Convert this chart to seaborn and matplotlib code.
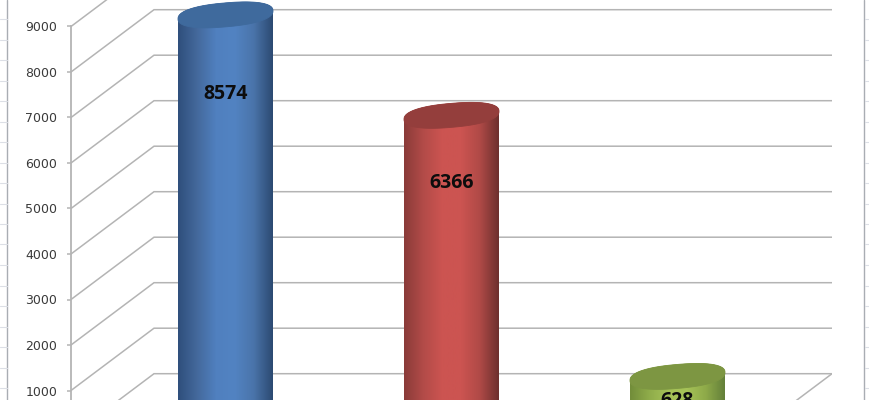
import numpy as np
import pandas as pd
import matplotlib
matplotlib.use("Agg")
import matplotlib.pyplot as plt
from matplotlib.colors import LinearSegmentedColormap
from matplotlib.patches import Polygon
from matplotlib.lines import Line2D
import seaborn as sns

categories = ["A", "B", "C"]
values = [8574, 6366, 628]
tick_values = [1000, 2000, 3000, 4000, 5000, 6000, 7000, 8000, 9000]

W, H = 870, 400
PX = 0.0455            # pixels per unit
DEPTH = 62.3 / PX      # vertical shift between front and back wall, in units

sns.set_theme(style="white")
plt.rcParams["font.family"] = ["DejaVu Sans"]
fig = plt.figure(figsize=(W / 100, H / 100), dpi=100, facecolor="white")

# spreadsheet remains at the edges
for x in (7.5, 864.5):
    fig.add_artist(Line2D([x / W, x / W], [0, 1], color="#a9adb3", lw=1.0))
for py in np.arange(-1.5, 400, 20.5):
    fig.add_artist(Line2D([0, 7 / W], [1 - py / H] * 2, color="#dcdfe6", lw=0.8))
    fig.add_artist(Line2D([865 / W, 1], [1 - py / H] * 2, color="#dcdfe6", lw=0.8))

# wall / axis
wall = fig.add_axes([71 / W, 0, (832 - 71) / W, 1])
wall.set_xlim(71, 832)
wall.set_ylim((436 - 400) / PX, 436 / PX)
wall.patch.set_alpha(0)
GRID = "#b4b4b4"
for v in [0] + tick_values:
    wall.plot([71, 154, 832], [v, v + DEPTH, v + DEPTH], color=GRID, lw=1.1,
              solid_joinstyle="miter", zorder=1)
wall.plot([832, 749], [DEPTH, 0], color=GRID, lw=1.1, zorder=1)
wall.set_xticks([])
wall.set_yticks(tick_values)
wall.set_yticklabels([str(t) for t in tick_values], fontsize=9, color="#3a3a3a")
wall.tick_params(axis="y", length=3, width=1.1, color=GRID, left=True, pad=7)
for s in ("top", "right", "bottom"):
    wall.spines[s].set_visible(False)
wall.spines["left"].set_color(GRID)
wall.spines["left"].set_linewidth(1.3)
wall.spines["left"].set_bounds((436 - 400) / PX, 9000)

# bars
ax = fig.add_axes([0, 0, 1, 1])
ax.patch.set_alpha(0)
df = pd.DataFrame({"category": categories, "value": values})
flat = ["#4f81bd", "#c0504d", "#9bbb59"]
sns.barplot(data=df, x="category", y="value", hue="category", palette=flat,
            width=95 / 226, dodge=False, legend=False, ax=ax, zorder=3)

xlim = (-225.5 / 226, (W - 225.5) / 226)
ylim = ((405 - 400) / PX, 405 / PX)

stops = [
    ["#2f4f7c", "#44699c", "#5080bf", "#5283c2", "#4a74aa", "#2c4a72"],
    ["#8a3b39", "#b24b48", "#cc5451", "#cc5451", "#b04a47", "#6e302e"],
    ["#728d3a", "#8fac4a", "#a5c257", "#a5c257", "#8eaa49", "#64803a"],
]
lids = ["#3f6a9d", "#943e3c", "#7d9642"]
label_drop = [79, 68, 25]  # px below lid centre

t = np.linspace(0, 2 * np.pi, 200)
half_w = 47.5 / 226
a_u, tilt_u = 12 / PX, 4 / PX

def sp(u, p=0.85):
    return np.sign(u) * np.abs(u) ** p

for i, (v, bar) in enumerate(zip(values, ax.patches)):
    ex = i + half_w * sp(np.cos(t))
    ey = v + a_u * sp(np.sin(t)) + tilt_u * sp(np.cos(t))
    upper = (t <= np.pi)
    outline = np.column_stack([
        np.r_[ex[upper], i - half_w, i + half_w],
        np.r_[ey[upper], -2000, -2000],
    ])
    clip = Polygon(outline, closed=True, transform=ax.transData)
    bar.set_clip_path(clip)
    bar.set_height(v + 1000)
    cmap = LinearSegmentedColormap.from_list("c", stops[i])
    im = ax.imshow(np.linspace(0, 1, 128)[None, :], cmap=cmap, aspect="auto",
                   extent=(i - half_w, i + half_w, -2000, v + 1000), zorder=4)
    im.set_clip_path(clip)
    ax.add_patch(Polygon(np.column_stack([ex, ey]), closed=True, fc=lids[i],
                         ec=lids[i], lw=0.6, zorder=5))
    ax.annotate(str(v), (i, v), xytext=(0, -label_drop[i] * 0.72), textcoords="offset points",
                ha="center", va="center", fontsize=14, fontweight="bold",
                family=["Open Sans", "DejaVu Sans"], color="#0d0d0d", zorder=6)

ax.set_xlim(*xlim)
ax.set_ylim(*ylim)
ax.set_axis_off()

fig.savefig("out.png", dpi=100)
